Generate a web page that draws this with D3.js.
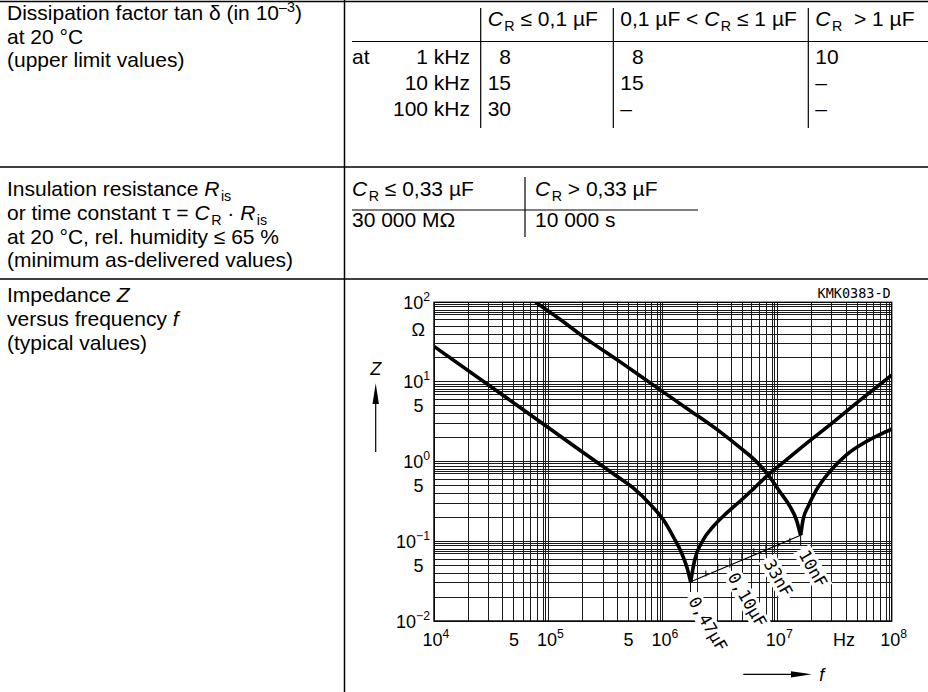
<!doctype html>
<html>
<head>
<meta charset="utf-8">
<script src="https://cdn.jsdelivr.net/npm/d3@7"></script>
<style>
body{margin:0;padding:0;background:#fff;}
svg{display:block;}
.txt{font-family:"Liberation Sans",Arial,sans-serif;font-size:21px;fill:#000;}
.ax{font-family:"Liberation Sans",Arial,sans-serif;font-size:18px;fill:#000;}
.tech{font-family:"DejaVu Sans Mono",monospace;fill:#000;}
</style>
</head>
<body>
<svg id="chart"></svg>
<script>
// --- table texts ---
var dissLabel = [["Dissipation factor tan δ (in 10", ["–3","sup"], ")"], ["at 20 °C"], ["(upper limit values)"]];
var dissHeads = [[["C","i"],["R","sub"]," ≤ 0,1 µF"], ["0,1 µF < ",["C","i"],["R","sub"]," ≤ 1 µF"], [["C","i"],["R","sub"],"  > 1 µF"]];
var dissFreqs = ["1 kHz", "10 kHz", "100 kHz"];
var dissValues = [["  8", "  8", "10"], ["15", "15", "–"], ["30", "–", "–"]];

var insLabel = [
	["Insulation resistance ", ["R","i"], ["is","sub"]],
	["or time constant τ = ", ["C","i"], ["R","sub"], " · ", ["R","i"], ["is","sub"]],
	["at 20 °C, rel. humidity ≤ 65 %"],
	["(minimum as-delivered values)"]
];
var insHeads = [[["C","i"],["R","sub"]," ≤ 0,33 µF"], [["C","i"],["R","sub"]," > 0,33 µF"]];
var insValues = ["30 000 MΩ", "10 000 s"];

var impLabel = [["Impedance ", ["Z","i"]], ["versus frequency ", ["f","i"]], ["(typical values)"]];

// --- chart data (f in Hz, Z in ohm) ---
// 0,47 uF: capacitive branch down to resonance, then inductive branch
var c047CapF = [1e4, 5.27e4, 2.01e5, 3.94e5, 5.51e5, 7.69e5, 1.01e6, 1.23e6, 1.46e6, 1.63e6, 1.75e6];
var c047CapZ = [28, 5.15, 1.30, 0.66, 0.468, 0.295, 0.186, 0.115, 0.0713, 0.0462, 0.031];
var c047IndF = [1.75e6, 1.90e6, 2.25e6, 2.75e6, 3.60e6, 4.70e6, 6.15e6, 8.32e6, 1.20e7, 1.57e7, 2.88e7, 5.26e7, 1e8];
var c047IndZ = [0.031, 0.0587, 0.104, 0.153, 0.226, 0.316, 0.452, 0.682, 1.05, 1.445, 2.89, 5.87, 12.2];
// 10 nF
var c10CapF = [7.73e4, 1.26e5, 2.01e5, 4.21e5, 8.22e5, 1.61e6, 3.15e6, 4.70e6, 6.58e6, 8.32e6, 1.05e7, 1.29e7, 1.47e7, 1.60e7];
var c10CapZ = [100, 61.2, 37.1, 18.0, 9.19, 4.69, 2.38, 1.51, 1.00, 0.682, 0.421, 0.274, 0.186, 0.119];
var c10IndF = [1.60e7, 1.68e7, 1.86e7, 2.20e7, 2.88e7, 4.02e7, 6.01e7, 1e8];
var c10IndZ = [0.119, 0.186, 0.274, 0.443, 0.752, 1.22, 1.79, 2.56];

// resonance locus ticks (frequency), labels on some of them
var locusF = [1.746e6, 2.375e6, 3.02e6, 3.85e6, 4.90e6, 6.24e6, 7.95e6, 1.012e7, 1.29e7, 1.60e7];
var locusLabels = [[0, "0,47µF"], [3, "0,10µF"], [6, "33nF"], [9, "10nF"]];

// axis ticks
var xDecades = [1e4, 1e5, 1e6, 1e7, 1e8];
var xExp = ["4", "5", "6", "7", "8"];
var xFives = [5e4, 5e5];
var yDecades = [1e2, 1e1, 1e0, 1e-1, 1e-2];
var yExp = ["2", "1", "0", "−1", "−2"];
var yFives = [5, 0.5, 0.05];
var gridMult = [1, 2, 3, 4, 5, 6, 7, 8, 9, 9.5];
var gridMultY = [1, 2, 3, 4, 5, 6, 7, 7.5, 8, 8.8, 9.4];

var W = 928, H = 692;
var svg = d3.select("#chart").attr("width", W).attr("height", H);
svg.append("rect").attr("width", W).attr("height", H).attr("fill", "#fff");

// rich text helper: parts are strings or [text, "i"|"sub"|"sup"]
function rich(g, x, y, parts, cls) {
	var t = g.append("text").attr("class", cls || "txt").attr("x", x).attr("y", y).attr("xml:space", "preserve");
	var shift = 0, prev = "";
	parts.forEach(function(p) {
		var txt = typeof p === "string" ? p : p[0];
		var st = typeof p === "string" ? "" : p[1];
		var ns = st === "sub" ? 5 : (st === "sup" ? -8 : 0);
		var s = t.append("tspan").text(txt).attr("dy", ns - shift);
		shift = ns;
		if (st === "i") s.attr("font-style", "italic");
		if (st === "sub" || st === "sup") s.attr("font-size", "0.68em");
		if (st === "sub" && prev === "i") s.attr("dx", 1.5);
		prev = st;
	});
	return t;
}

function hline(x1, x2, y, w) {
	svg.append("line").attr("x1", x1).attr("x2", x2).attr("y1", y).attr("y2", y)
		.attr("stroke", "#000").attr("stroke-width", w || 1.5);
}
function vline(x, y1, y2, w) {
	svg.append("line").attr("x1", x).attr("x2", x).attr("y1", y1).attr("y2", y2)
		.attr("stroke", "#000").attr("stroke-width", w || 1.5);
}

// table frame
hline(0, W, 1.5);
hline(0, W, 167);
hline(0, W, 279);
vline(344.5, 0, H);

// row 1
dissLabel.forEach(function(l, i) { rich(svg, 7, 20 + i * 23.6, l); });
hline(352, W, 41.5, 1.2);
var colX = [480.7, 613.3, 808.3];
colX.forEach(function(cx) { vline(cx, 8, 128, 1.2); });
dissHeads.forEach(function(h, i) { rich(svg, colX[i] + 7, 26, h); });
var rowY = [64, 90, 116];
rich(svg, 352, rowY[0], ["at"]);
dissFreqs.forEach(function(f, i) {
	rich(svg, 470, rowY[i], [f]).attr("text-anchor", "end");
	dissValues[i].forEach(function(v, j) { rich(svg, colX[j] + 7, rowY[i], [v]); });
});

// row 2
insLabel.forEach(function(l, i) { rich(svg, 7, 196 + i * 23.8, l); });
hline(352, 698, 210, 1.2);
vline(525, 177, 237, 1.2);
rich(svg, 352, 196, insHeads[0]);
rich(svg, 535, 196, insHeads[1]);
rich(svg, 352, 226.5, [insValues[0]]);
rich(svg, 535, 226.5, [insValues[1]]);

// row 3
impLabel.forEach(function(l, i) { rich(svg, 7, 302 + i * 24, l); });

// --- impedance chart ---
var x = d3.scaleLog().domain([1e4, 1e8]).range([434, 891.7]);
var y = d3.scaleLog().domain([1e-2, 1e2]).range([621, 302.3]);

var grid = svg.append("g").attr("stroke", "#1a1a1a").attr("stroke-width", 1).attr("shape-rendering", "crispEdges");
xDecades.slice(0, 4).forEach(function(d) {
	gridMult.forEach(function(m) {
		grid.append("line").attr("x1", x(d * m)).attr("x2", x(d * m)).attr("y1", y(1e-2)).attr("y2", y(1e2));
	});
});
yDecades.slice(1).forEach(function(d) {
	gridMultY.forEach(function(m) {
		grid.append("line").attr("x1", x(1e4)).attr("x2", x(1e8)).attr("y1", y(d * m)).attr("y2", y(d * m));
	});
});
svg.append("rect").attr("x", x(1e4)).attr("y", y(1e2))
	.attr("width", x(1e8) - x(1e4)).attr("height", y(1e-2) - y(1e2))
	.attr("fill", "none").attr("stroke", "#000").attr("stroke-width", 1.4);

// axis labels
xDecades.forEach(function(d, i) {
	rich(svg, x(d) + 2, 645.5, ["10", [xExp[i], "sup"]], "ax").attr("text-anchor", "middle");
});
xFives.forEach(function(d) {
	rich(svg, x(d), 645.5, ["5"], "ax").attr("text-anchor", "middle");
});
rich(svg, 844, 645.5, ["Hz"], "ax").attr("text-anchor", "middle");
yDecades.forEach(function(d, i) {
	rich(svg, 430, y(d) + 6.5, ["10", [yExp[i], "sup"]], "ax").attr("text-anchor", "end");
});
yFives.forEach(function(d) {
	rich(svg, 423.5, y(d) + 6.5, ["5"], "ax").attr("text-anchor", "end");
});
rich(svg, 425, 335.5, ["Ω"], "ax").attr("text-anchor", "end");

// axis arrows
rich(svg, 375.7, 375, [["Z", "i"]], "ax").attr("text-anchor", "middle");
vline(375.7, 452, 398, 1.2);
svg.append("path").attr("d", "M375.7,383.3 L372.5,404 L378.9,404 Z").attr("fill", "#000");
rich(svg, 821.7, 681, [["f", "i"]], "ax").attr("text-anchor", "middle");
hline(743.3, 795, 674.3, 1.2);
svg.append("path").attr("d", "M811.7,674.3 L791,671.2 L791,677.4 Z").attr("fill", "#000");

svg.append("text").attr("class", "tech").attr("font-size", 13.5)
	.attr("x", 890.7).attr("y", 298.3).attr("text-anchor", "end").text("KMK0383-D");

// curves
svg.append("clipPath").attr("id", "plotClip").append("rect")
	.attr("x", x(1e4)).attr("y", y(1e2)).attr("width", x(1e8) - x(1e4)).attr("height", y(1e-2) - y(1e2));
var line = d3.line().x(function(d) { return x(d[0]); }).y(function(d) { return y(d[1]); }).curve(d3.curveMonotoneX);
var curves = svg.append("g").attr("clip-path", "url(#plotClip)").attr("fill", "none")
	.attr("stroke", "#000").attr("stroke-width", 3.6).attr("stroke-linejoin", "round");
[[c047CapF, c047CapZ], [c047IndF, c047IndZ], [c10CapF, c10CapZ], [c10IndF, c10IndZ]].forEach(function(c) {
	curves.append("path").attr("d", line(d3.zip(c[0], c[1])));
});

// resonance locus between the two minima
var fA = c047CapF[c047CapF.length - 1], zA = c047CapZ[c047CapZ.length - 1];
var fB = c10CapF[c10CapF.length - 1], zB = c10CapZ[c10CapZ.length - 1];
var locusZ = d3.scaleLog().domain([fA, fB]).range([zA, zB]);
svg.append("line").attr("x1", x(fA)).attr("y1", y(zA)).attr("x2", x(fB)).attr("y2", y(zB))
	.attr("stroke", "#000").attr("stroke-width", 1.1);
var labelled = locusLabels.map(function(l) { return l[0]; });
locusF.forEach(function(f, i) {
	var px = x(f), py = y(locusZ(f));
	svg.append("line").attr("x1", px).attr("x2", px).attr("y1", py).attr("y2", py + (labelled.indexOf(i) >= 0 ? 10 : 6))
		.attr("stroke", "#000").attr("stroke-width", 1);
});
locusLabels.forEach(function(l) {
	var f = locusF[l[0]];
	var px = x(f) - 2.5, py = y(locusZ(f)) + 19;
	var g = svg.append("g").attr("transform", "translate(" + px + "," + py + ") rotate(60)");
	var bg = g.append("rect").attr("fill", "#fff");
	var t = g.append("text").attr("class", "tech").attr("font-size", 16.5).text(l[1]);
	var bb = t.node().getBBox();
	bg.attr("x", bb.x - 3).attr("y", bb.y).attr("width", bb.width + 6).attr("height", bb.height);
});
</script>
</body>
</html>
